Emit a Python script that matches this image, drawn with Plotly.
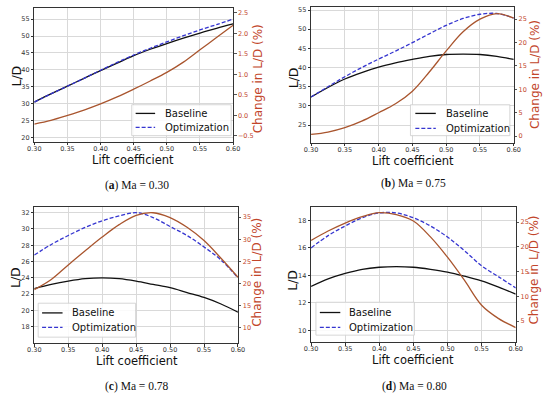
import plotly.graph_objects as go

W, H = 550, 395

cl = [0.300, 0.325, 0.350, 0.375, 0.400, 0.425, 0.450, 0.475, 0.500, 0.525, 0.550, 0.575, 0.600]

base_a = [30.5, 32.9, 35.2, 37.5, 39.8, 42.0, 44.2, 46.1, 47.8, 49.4, 50.9, 52.3, 53.6]
opt_a = [30.5, 32.9, 35.2, 37.5, 39.9, 42.2, 44.4, 46.4, 48.3, 50.1, 51.8, 53.4, 55.0]
chg_a = [-0.21, -0.12, 0.0, 0.13, 0.28, 0.45, 0.64, 0.84, 1.05, 1.30, 1.60, 1.90, 2.20]

base_b = [32.3, 34.8, 37.0, 38.7, 40.1, 41.2, 42.1, 42.9, 43.4, 43.5, 43.4, 42.9, 42.1]
opt_b = [32.3, 35.0, 37.6, 40.0, 42.2, 44.3, 46.5, 48.8, 51.0, 52.8, 53.9, 54.1, 52.9]
chg_b = [0.36, 0.86, 1.8, 3.2, 5.0, 6.9, 9.6, 13.7, 18.2, 22.3, 25.0, 26.2, 25.2]

base_c = [22.7, 23.2, 23.6, 23.9, 24.0, 23.9, 23.6, 23.2, 22.8, 22.2, 21.6, 20.8, 19.8]
opt_c = [26.8, 28.1, 29.2, 30.2, 31.0, 31.6, 32.0, 31.4, 30.3, 29.2, 27.8, 26.2, 24.0]
chg_c = [18.6, 20.9, 24.2, 27.4, 30.5, 33.3, 35.4, 36.0, 34.9, 32.7, 29.7, 25.7, 21.4]

base_d = [13.2, 13.75, 14.15, 14.45, 14.6, 14.65, 14.6, 14.45, 14.25, 13.95, 13.6, 13.15, 12.65]
opt_d = [16.0, 16.9, 17.6, 18.2, 18.55, 18.55, 18.2, 17.6, 16.8, 15.8, 14.7, 13.9, 13.1]
chg_d = [21.3, 23.2, 24.8, 26.1, 26.9, 26.5, 25.2, 22.0, 17.9, 13.2, 8.2, 5.5, 3.7]

x_ticks = [0.30, 0.35, 0.40, 0.45, 0.50, 0.55, 0.60]
captions = ["(<b>a</b>) Ma = 0.30", "(<b>b</b>) Ma = 0.75", "(<b>c</b>) Ma = 0.78", "(<b>d</b>) Ma = 0.80"]
legend_names = ["Baseline", "Optimization"]

panels = [
    dict(base=base_a, opt=opt_a, chg=chg_a,
         box=(28, 232, 7, 141), yr=[18.8, 58.3], y2r=[-0.64, 2.62],
         yt=[20, 25, 30, 35, 40, 45, 50, 55], y2t=[-0.5, 0.0, 0.5, 1.0, 1.5, 2.0, 2.5], y2fmt=".1f",
         leg=dict(box=(128, 230, 104, 135), s=(132, 152), tx=160, ys=(112.7, 126.7)),
         ld=(10, 75), ch=(257, 78), lc=(129, 159), cap=(133, 185)),
    dict(base=base_b, opt=opt_b, chg=chg_b,
         box=(312, 520, 6, 142), yr=[20.4, 55.8], y2r=[-1.4, 27.6],
         yt=[25, 30, 35, 40, 45, 50, 55], y2t=[0, 5, 10, 15, 20, 25], y2fmt="d",
         leg=dict(box=(414, 516, 104, 135), s=(419, 440), tx=448, ys=(112.7, 127.7)),
         ld=(294, 77), ch=(542, 74), lc=(417, 160), cap=(417, 183)),
    dict(base=base_c, opt=opt_c, chg=chg_c,
         box=(28, 237, 206.5, 343), yr=[16.0, 32.7], y2r=[6.5, 37.3],
         yt=[18, 20, 22, 24, 26, 28, 30, 32], y2t=[10, 15, 20, 25, 30, 35], y2fmt="d",
         leg=dict(box=(32, 132, 303, 337), s=(36, 57), tx=65, ys=(312.7, 327.3)),
         ld=(9, 277), ch=(257, 272), lc=(133, 360.5), cap=(133, 386)),
    dict(base=base_d, opt=opt_d, chg=chg_d,
         box=(312, 522, 206.7, 342), yr=[9.15, 18.97], y2r=[0.76, 28.0],
         yt=[10, 12, 14, 16, 18], y2t=[5, 10, 15, 20, 25], y2fmt="d",
         leg=dict(box=(317, 418, 302, 335), s=(321, 342), tx=349, ys=(312.3, 327.3)),
         ld=(293, 280), ch=(541, 270), lc=(417, 360), cap=(418, 386)),
]

RED_LINE = "#a9552e"
RED_TXT = "#c2452a"
BLACK = "#111111"
BLUE = "#3535d0"
DASH = "4px,2px"
TICK_FONT = dict(family="DejaVu Sans", size=6.5, color="#333333")


def px(x):
    return x / W


def py(y):
    return 1 - y / H


fig = go.Figure()
layout = dict(width=W, height=H, margin=dict(l=0, r=0, t=0, b=0),
              paper_bgcolor="white", plot_bgcolor="white", showlegend=False)
annotations = []
shapes = []

for i, p in enumerate(panels):
    n = i + 1
    xa = "x" if n == 1 else f"x{n}"
    ya = f"y{2*n-1}" if n > 1 else "y"
    yb = f"y{2*n}"
    l, r, t, b = p["box"]
    xdom = [l / W, r / W]
    ydom = [1 - b / H, 1 - t / H]

    fig.add_trace(go.Scatter(x=cl, y=p["chg"], mode="lines", name="Change in L/D",
                             line=dict(color=RED_LINE, width=1.3, shape="spline"),
                             xaxis=xa, yaxis=yb, hoverinfo="skip"))
    fig.add_trace(go.Scatter(x=cl, y=p["base"], mode="lines", name=legend_names[0],
                             line=dict(color=BLACK, width=1.3, shape="spline"),
                             xaxis=xa, yaxis=ya))
    fig.add_trace(go.Scatter(x=cl, y=p["opt"], mode="lines", name=legend_names[1],
                             line=dict(color=BLUE, width=1.3, dash=DASH, shape="spline"),
                             xaxis=xa, yaxis=ya))

    xkey = "xaxis" if n == 1 else f"xaxis{n}"
    ykey = "yaxis" if n == 1 else f"yaxis{2*n-1}"
    y2key = f"yaxis{2*n}"
    layout[xkey] = dict(domain=xdom, anchor=ya, range=[0.30, 0.60], tickvals=x_ticks, tickformat=".2f",
                        showgrid=True, gridcolor="#d9d9d9", gridwidth=0.8, zeroline=False,
                        showline=True, linecolor="#333333", linewidth=0.8, mirror=True,
                        ticks="outside", ticklen=2.5, tickwidth=0.8, tickcolor="#333333",
                        ticklabelstandoff=-2, tickfont=TICK_FONT)
    layout[ykey] = dict(domain=ydom, anchor=xa, range=p["yr"], tickvals=p["yt"],
                        showgrid=True, gridcolor="#d9d9d9", gridwidth=0.8, zeroline=False,
                        showline=True, linecolor="#333333", linewidth=0.8, mirror=True,
                        ticks="outside", ticklen=2.5, tickwidth=0.8, tickcolor="#333333",
                        tickfont=TICK_FONT)
    layout[y2key] = dict(domain=ydom, anchor=xa, overlaying=ya, side="right", range=p["y2r"], tickvals=p["y2t"],
                         tickformat=p["y2fmt"], showgrid=False, zeroline=False,
                         showline=False, ticks="outside", ticklen=2.5, tickwidth=0.8, tickcolor="#555555",
                         tickfont=dict(family="DejaVu Sans", size=6.5, color=RED_TXT))

    # legend box drawn in paper coordinates
    lg = p["leg"]
    bl, br, bt, bb = lg["box"]
    shapes.append(dict(type="rect", xref="paper", yref="paper", x0=px(bl), x1=px(br), y0=py(bb), y1=py(bt),
                       line=dict(color="#cccccc", width=0.8), fillcolor="rgba(255,255,255,0.85)", layer="above"))
    for k, (col, dash) in enumerate([(BLACK, "solid"), (BLUE, DASH)]):
        yy = py(lg["ys"][k])
        shapes.append(dict(type="line", xref="paper", yref="paper", x0=px(lg["s"][0]), x1=px(lg["s"][1]),
                           y0=yy, y1=yy, line=dict(color=col, width=1.3, dash=dash), layer="above"))
        annotations.append(dict(text=legend_names[k], x=px(lg["tx"]), y=yy, xref="paper", yref="paper",
                                showarrow=False, xanchor="left", yanchor="middle",
                                font=dict(family="DejaVu Sans", size=10, color=BLACK)))

    annotations.append(dict(text="L/D", x=px(p["ld"][0]), y=py(p["ld"][1]), xref="paper", yref="paper",
                            showarrow=False, textangle=-90, xanchor="center", yanchor="middle",
                            font=dict(family="DejaVu Sans", size=12.5, color=BLACK)))
    annotations.append(dict(text="Change in L/D (%)", x=px(p["ch"][0]), y=py(p["ch"][1]), xref="paper",
                            yref="paper", showarrow=False, textangle=-90, xanchor="center", yanchor="middle",
                            font=dict(family="DejaVu Sans", size=12, color=RED_TXT)))
    annotations.append(dict(text="Lift coefficient", x=px(p["lc"][0]), y=py(p["lc"][1]), xref="paper",
                            yref="paper", showarrow=False, xanchor="center", yanchor="middle",
                            font=dict(family="DejaVu Sans", size=11.5, color=BLACK)))
    annotations.append(dict(text=captions[i], x=px(p["cap"][0]), y=py(p["cap"][1]), xref="paper",
                            yref="paper", showarrow=False, xanchor="center", yanchor="middle",
                            font=dict(family="Liberation Serif", size=11.5, color=BLACK)))

layout["annotations"] = annotations
layout["shapes"] = shapes
fig.update_layout(**layout)
fig.write_html("out.html", config={"displayModeBar": False},
               post_script="document.body.style.margin='0px';document.body.style.overflow='hidden';")
